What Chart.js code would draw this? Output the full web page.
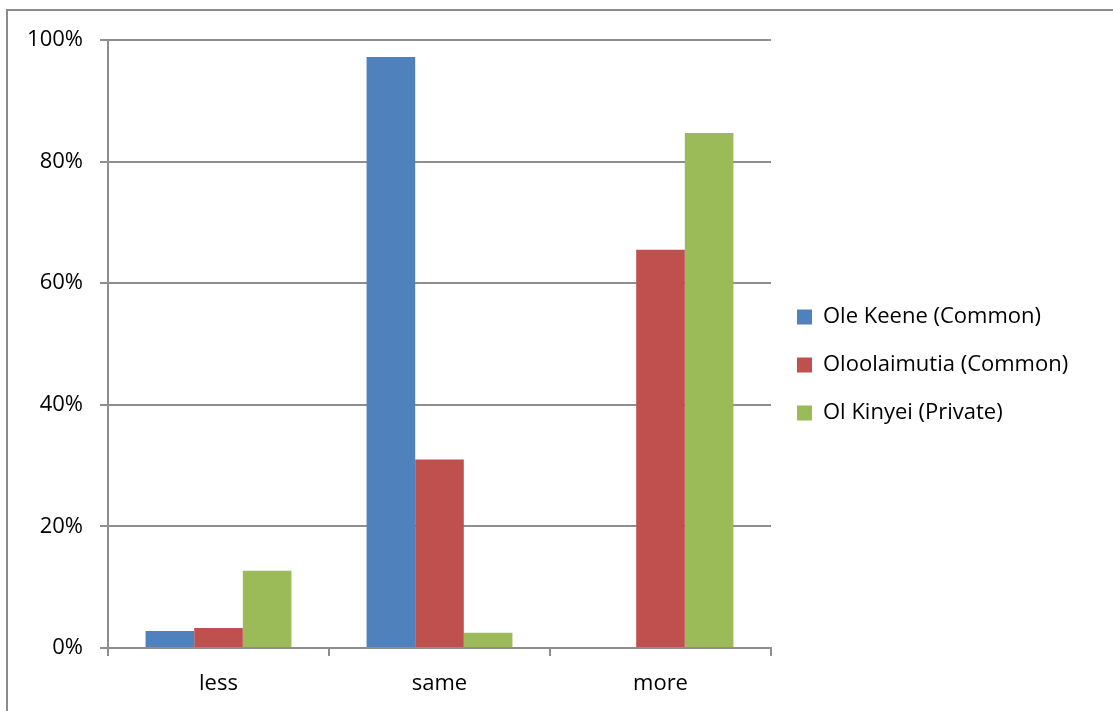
<!DOCTYPE html>
<html>
<head>
<meta charset="utf-8">
<title>Change in status</title>
<script src="https://cdn.jsdelivr.net/npm/chart.js@4.4.0/dist/chart.umd.min.js"></script>
<style>
    html, body { margin: 0; padding: 0; background: #fff; overflow: hidden; }
    #wrap { position: relative; width: 1113px; height: 711px; }
    #frame { position: absolute; left: 6px; top: 9px; width: 1200px; height: 800px; border-left: 2px solid #8c8c8c; border-top: 2px solid #8c8c8c; }
    #chart { position: absolute; left: 0; top: 0; }
</style>
</head>
<body>
<div id="wrap">
    <div id="frame"></div>
    <canvas id="chart" width="1113" height="711"></canvas>
</div>
<script>
const categories = ['less', 'same', 'more'];
const seriesNames = ['Ole Keene (Common)', 'Oloolaimutia (Common)', 'Ol Kinyei (Private)'];
const oleKeene = [2.8, 97.2, 0];
const oloolaimutia = [3.3, 31.0, 65.5];
const olKinyei = [12.7, 2.5, 84.7];
const yTicks = [0, 20, 40, 60, 80, 100];

(function(){
    const fontFamily = '"Open Sans", "Liberation Sans", sans-serif';
    const fontSize = 22;
    const gridColor = '#8e8e8e';
    const legendPad = 26;
    const legendWidth = 342;   // plot area ends at x=771, legend fills the rest
    const legendTop = 19;      // lifts the centred legend block to match the original

    // fixes the legend width and vertical band, everything else is left to Chart.js
    const legendBox = {
        id: 'legendBox',
        afterInit(chart) {
            const lg = chart.legend;
            if (!lg) return;
            const origFit = lg.fit.bind(lg);
            lg.fit = function() {
                origFit();
                this.width = legendWidth;
            };
        },
        afterLayout(chart) {
            if (chart.legend) chart.legend.top = legendTop;
        }
    };

    try {
        new Chart(document.getElementById('chart'), {
            type: 'bar',
            data: {
                labels: categories,
                datasets: [
                    { label: seriesNames[0], data: oleKeene, backgroundColor: '#4f81bd', borderWidth: 0 },
                    { label: seriesNames[1], data: oloolaimutia, backgroundColor: '#c0504d', borderWidth: 0 },
                    { label: seriesNames[2], data: olKinyei, backgroundColor: '#9bbb59', borderWidth: 0 },
                ]
            },
            plugins: [legendBox],
            options: {
                responsive: false,
                animation: false,
                layout: { padding: { left: 0, top: 40, right: 0, bottom: 0 } },
                datasets: { bar: { categoryPercentage: 0.66, barPercentage: 1 } },
                plugins: {
                    tooltip: { enabled: false },
                    legend: {
                        position: 'right',
                        align: 'center',
                        labels: {
                            color: '#000',
                            boxWidth: 15,
                            boxHeight: 15,
                            padding: legendPad,
                            font: { family: fontFamily, size: fontSize }
                        }
                    }
                },
                scales: {
                    x: {
                        afterFit: (axis) => { axis.height = 63; },
                        grid: { drawOnChartArea: false, drawTicks: true, tickLength: 8, color: gridColor, lineWidth: 2 },
                        border: { color: gridColor, width: 2 },
                        ticks: { color: '#000', padding: 15, font: { family: fontFamily, size: fontSize } }
                    },
                    y: {
                        min: 0,
                        max: 100,
                        afterFit: (axis) => { axis.width = 108; },
                        afterBuildTicks: (axis) => { axis.ticks = yTicks.map(v => ({ value: v })); },
                        grid: { color: gridColor, lineWidth: 2, tickLength: 8 },
                        border: { color: gridColor, width: 2 },
                        ticks: {
                            color: '#000',
                            padding: 17,
                            font: { family: fontFamily, size: fontSize },
                            callback: (v) => v + '%'
                        }
                    }
                }
            }
        });
    } catch (e) {
        console.error('Failed to render chart', e);
    }
})();
</script>
</body>
</html>
